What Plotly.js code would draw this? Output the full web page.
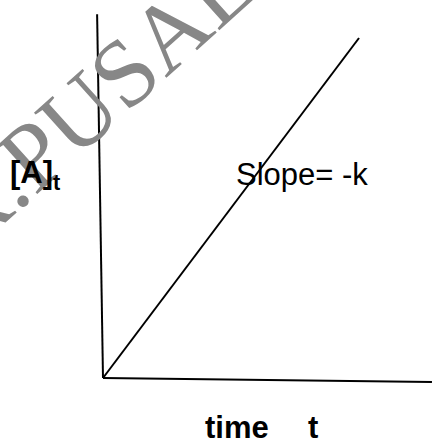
<!DOCTYPE html>
<html>
<head>
<meta charset="utf-8">
<script src="https://cdn.plot.ly/plotly-3.0.1.min.js"></script>
<style>html,body{margin:0;padding:0;background:#fff;}#chart{width:432px;height:440px;}</style>
</head>
<body>
<div id="chart"></div>
<script>
// Schematic data (arbitrary units)
var timeValues = [0, 10];          // time t
var concValues = [0, 10];          // [A]t plotted line
var xAxisLineX = [0, 12.85];       // drawn horizontal axis
var xAxisLineY = [0, -0.12];
var yAxisLineX = [0, -0.23];       // drawn vertical axis
var yAxisLineY = [0, 10.7];

var yLabel = "[A]<sub>t</sub>";
var xLabelWord = "time";
var xLabelSym = "t";
var slopeLabel = "Slope= -k";
var watermark = "R.PUSALKAR";

var W = 432, H = 440;
function px(x){ return x / W; }
function py(y){ return 1 - y / H; }

var lineStyle = {color: "#000", width: 2};
var traces = [
  {x: yAxisLineX, y: yAxisLineY, mode: "lines", line: lineStyle, hoverinfo: "skip"},
  {x: xAxisLineX, y: xAxisLineY, mode: "lines", line: lineStyle, hoverinfo: "skip"},
  {x: timeValues, y: concValues, mode: "lines", line: lineStyle, hoverinfo: "skip"}
];

var layout = {
  width: W, height: H,
  margin: {l: 0, r: 0, t: 0, b: 0, pad: 0},
  paper_bgcolor: "#fff", plot_bgcolor: "#fff",
  showlegend: false,
  xaxis: {range: [-4.0234, 12.8516], visible: false, fixedrange: true},
  yaxis: {range: [-1.8235, 11.1176], visible: false, fixedrange: true},
  annotations: [
    {text: watermark, xref: "paper", yref: "paper", x: px(168), y: py(32),
     xanchor: "center", yanchor: "middle", showarrow: false, textangle: -42,
     font: {family: "Liberation Serif, Times New Roman, serif", size: 96, color: "#878787"}},
    {text: yLabel, xref: "paper", yref: "paper", x: px(8), y: py(175),
     xanchor: "left", yanchor: "middle", showarrow: false,
     font: {family: "Liberation Sans, Arial, sans-serif", size: 31, color: "#000", weight: "bold"}},
    {text: slopeLabel, xref: "paper", yref: "paper", x: px(234), y: py(174),
     xanchor: "left", yanchor: "middle", showarrow: false,
     font: {family: "Liberation Sans, Arial, sans-serif", size: 31, color: "#000"}},
    {text: xLabelWord, xref: "paper", yref: "paper", x: px(203), y: py(427),
     xanchor: "left", yanchor: "middle", showarrow: false,
     font: {family: "Liberation Sans, Arial, sans-serif", size: 31, color: "#000", weight: "bold"}},
    {text: xLabelSym, xref: "paper", yref: "paper", x: px(306), y: py(427),
     xanchor: "left", yanchor: "middle", showarrow: false,
     font: {family: "Liberation Sans, Arial, sans-serif", size: 31, color: "#000", weight: "bold"}}
  ]
};

Plotly.newPlot("chart", traces, layout, {staticPlot: true, displayModeBar: false});
</script>
</body>
</html>
